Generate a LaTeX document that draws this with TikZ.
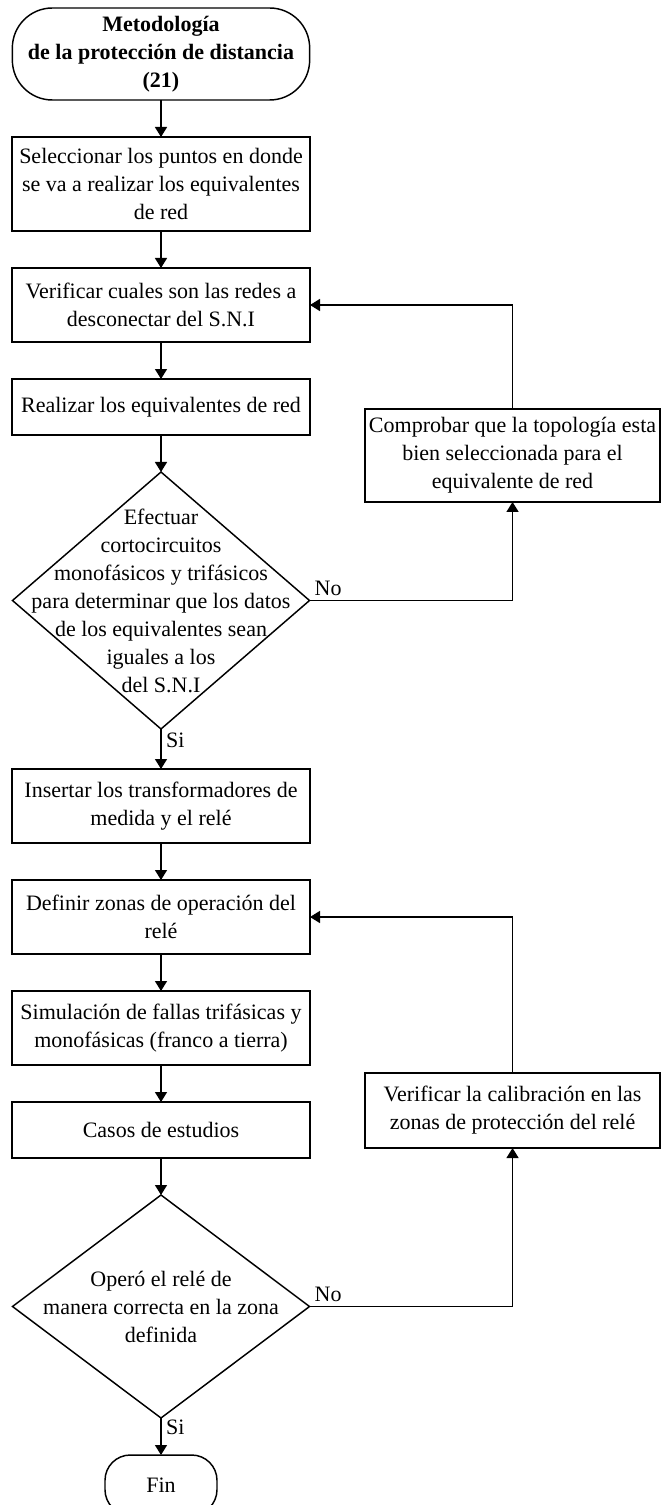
\documentclass[tikz,border=0pt]{standalone}
\usepackage{fontspec}
\setmainfont{Liberation Serif}
\usepackage{tikz}
\usetikzlibrary{positioning,shapes.geometric,arrows.meta}

\begin{document}
\begin{tikzpicture}[node distance=27.75pt,
    every node/.style = {font=\fontsize{16.5pt}{21pt}\selectfont},
    box/.style = {draw, line width=1.1pt, rectangle, minimum width=223.5pt, inner sep=1pt, outer sep=0pt, align=center},
    term/.style = {draw, line width=1.1pt, rectangle, rounded corners=30pt, minimum width=223pt, minimum height=69pt, outer sep=0pt, align=center},
    decision/.style = {draw, line width=1.1pt, diamond, minimum width=222.75pt, inner sep=0pt, outer sep=0pt},
    arr/.style = {line width=1.1pt, -{Triangle[length=7.5pt,width=9pt]}}]
    \useasboundingbox (0,0) rectangle (495.75pt,-1128.75pt);
    \clip (0,0) rectangle (495.75pt,-1128.75pt);

    \node[term, font=\fontsize{16.5pt}{21pt}\selectfont\bfseries] (S) at (120.75pt,-40.5pt) {Metodología\\ de la protección de distancia\\ (21)};
    \node[box, minimum height=70.5pt] (A) [below=of S] {Seleccionar los puntos en donde\\ se va a realizar los equivalentes\\ de red};
    \node[box, minimum height=55.5pt] (B) [below=of A] {Verificar cuales son las redes a\\ desconectar del S.N.I};
    \node[box, minimum height=42pt] (C) [below=of B] {Realizar los equivalentes de red};
    \node[decision, minimum height=192.75pt] (D) [below=of C] {};
    \node[align=center] (Dt) at (D) {Efectuar\\ cortocircuitos\\ monofásicos y trifásicos\\ para determinar que los datos\\ de los equivalentes sean\\ iguales a los\\ del S.N.I};
    \node[box, minimum height=55.5pt] (E) [below=30pt of D] {Insertar los transformadores de\\ medida y el relé};
    \node[box, minimum height=55.5pt] (F) [below=of E] {Definir zonas de operación del\\ relé};
    \node[box, minimum height=55.5pt] (G) [below=of F] {Simulación de fallas trifásicas y\\ monofásicas (franco a tierra)};
    \node[box, minimum height=42pt] (H) [below=of G] {Casos de estudios};
    \node[decision, minimum height=167.25pt] (I) [below=of H] {};
    \node[align=center] (It) at (I) {Operó el relé de\\ manera correcta en la zona\\ definida};
    \node[term, minimum width=84pt, minimum height=45pt, rounded corners=19pt] (J) [below=of I] {Fin};
    \node[box, minimum width=221.25pt, minimum height=69.75pt] (K) at (384.4pt,-341.6pt) {Comprobar que la topología esta\\ bien seleccionada para el\\ equivalente de red};
    \node[box, minimum width=221.25pt, minimum height=56.25pt] (L) at (384.4pt,-832.9pt) {Verificar la calibración en las\\ zonas de protección del relé};

    \draw[arr] (S) -- (A);
    \draw[arr] (A) -- (B);
    \draw[arr] (B) -- (C);
    \draw[arr] (C) -- (D);
    \draw[arr] (D) -- node[right, pos=0.28] {Si} (E);
    \draw[arr] (D.east) node[above right] {No} -| (K);
    \draw[arr] (K) |- (B);
    \draw[arr] (E) -- (F);
    \draw[arr] (F) -- (G);
    \draw[arr] (G) -- (H);
    \draw[arr] (H) -- (I);
    \draw[arr] (I) -- node[right, pos=0.25] {Si} (J);
    \draw[arr] (I.east) node[above right] {No} -| (L);
    \draw[arr] (L) |- (F);
\end{tikzpicture}
\end{document}
